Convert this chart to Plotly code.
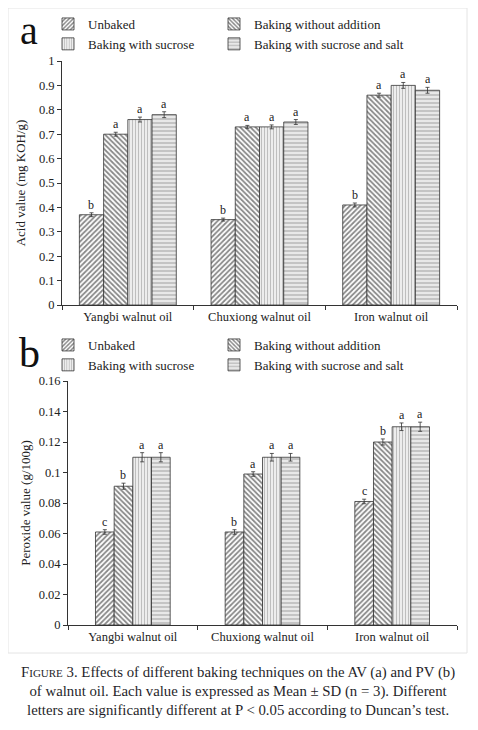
import plotly.graph_objects as go

# page body has an 8px margin, so the figure is drawn 8px lower/right
OFF = 8
W, H = 478 - OFF, 730 - OFF

categories = ["Yangbi walnut oil", "Chuxiong walnut oil", "Iron walnut oil"]
series_names = ["Unbaked", "Baking without addition", "Baking with sucrose", "Baking with sucrose and salt"]

# Panel a: acid value (mg KOH/g)
av_values = [
    [0.37, 0.35, 0.41],
    [0.70, 0.73, 0.86],
    [0.76, 0.73, 0.90],
    [0.78, 0.75, 0.88],
]
av_errors = [
    [0.008, 0.006, 0.008],
    [0.008, 0.006, 0.008],
    [0.010, 0.008, 0.012],
    [0.012, 0.010, 0.012],
]
av_letters = [
    ["b", "b", "b"],
    ["a", "a", "a"],
    ["a", "a", "a"],
    ["a", "a", "a"],
]
av_ticks = [0, 0.1, 0.2, 0.3, 0.4, 0.5, 0.6, 0.7, 0.8, 0.9, 1]

# Panel b: peroxide value (g/100g)
pv_values = [
    [0.061, 0.061, 0.081],
    [0.091, 0.099, 0.120],
    [0.110, 0.110, 0.130],
    [0.110, 0.110, 0.130],
]
pv_errors = [
    [0.0015, 0.0015, 0.0015],
    [0.0020, 0.0015, 0.0020],
    [0.0030, 0.0025, 0.0025],
    [0.0030, 0.0025, 0.0030],
]
pv_letters = [
    ["c", "b", "c"],
    ["b", "a", "b"],
    ["a", "a", "a"],
    ["a", "a", "a"],
]
pv_ticks = [0, 0.02, 0.04, 0.06, 0.08, 0.1, 0.12, 0.14, 0.16]

SERIF = "Liberation Serif, Times New Roman, serif"
patterns = [
    dict(shape="/", fgcolor="#111111", bgcolor="white", size=3.6, solidity=0.5),
    dict(shape="\\", fgcolor="#111111", bgcolor="white", size=3.6, solidity=0.5),
    dict(shape="|", fgcolor="#8a8a8a", bgcolor="#f2f2f2", size=3, solidity=0.4),
    dict(shape="-", fgcolor="#9a9a9a", bgcolor="#e8e8e8", size=4, solidity=0.45),
]

def px_x(x):
    return (x - OFF) / W

def px_y(y):
    return 1 - (y - OFF) / H

# panel geometry (reference page pixels)
A_X = (px_x(62), px_x(457))
A_Y = (px_y(305), px_y(61))
B_X = (px_x(68), px_x(457))
B_Y = (px_y(625), px_y(381))

A_WIDTH = 0.184
B_WIDTH = 0.144

# legend column of each series (two columns, two rows)
legend_col = [0, 1, 0, 1]

fig = go.Figure()
annotations = []

def add_panel(values, errors, letters, xa, ya, legends, bw, xdom):
    n = len(values)
    offsets = [(-n / 2 + i) * bw for i in range(n)]
    cat_px = (xdom[1] - xdom[0]) * W / len(categories)
    for i in range(n):
        fig.add_trace(go.Bar(
            x=categories, y=values[i], name=series_names[i],
            xaxis=xa, yaxis=ya, legend=legends[legend_col[i]],
            width=bw, offset=offsets[i],
            marker=dict(color=patterns[i]["bgcolor"], line=dict(color="#333333", width=0.8),
                        pattern=patterns[i]),
            error_y=dict(type="data", array=errors[i], color="#333333", thickness=0.8, width=2),
            hoverinfo="x+y",
        ))
        xshift = (offsets[i] + bw / 2) * cat_px
        for j, c in enumerate(categories):
            annotations.append(dict(
                x=c, y=values[i][j] + errors[i][j], xref=xa, yref=ya,
                text=letters[i][j], showarrow=False, xshift=xshift, yshift=-1,
                xanchor="center", yanchor="bottom",
                font=dict(family=SERIF, size=12, color="#222222"),
            ))

add_panel(av_values, av_errors, av_letters, "x", "y", ["legend", "legend2"], A_WIDTH, A_X)
add_panel(pv_values, pv_errors, pv_letters, "x2", "y2", ["legend3", "legend4"], B_WIDTH, B_X)

axis_common = dict(showline=True, linecolor="#333333", linewidth=1, ticks="outside",
                   ticklen=4, tickcolor="#333333", showgrid=False, zeroline=False,
                   automargin=False,
                   tickfont=dict(family=SERIF, size=12.5, color="#222222"))

# big panel letters
annotations.append(dict(x=px_x(18), y=px_y(55), xref="paper", yref="paper", text="a",
                        showarrow=False, xanchor="left", yanchor="bottom",
                        font=dict(family=SERIF, size=40, color="#111111")))
annotations.append(dict(x=px_x(17), y=px_y(378), xref="paper", yref="paper", text="b",
                        showarrow=False, xanchor="left", yanchor="bottom",
                        font=dict(family=SERIF, size=42, color="#111111")))

caption = ("F<span style='font-size:11px'>IGURE</span> 3. Effects of different baking techniques on the AV (a) and PV (b)<br>"
           "of walnut oil. Each value is expressed as Mean ± SD (n = 3). Different<br>"
           "letters are significantly different at P &lt; 0.05 according to Duncan’s test.")
annotations.append(dict(x=px_x(238), y=px_y(662), xref="paper", yref="paper", text=caption,
                        showarrow=False, xanchor="center", yanchor="top", align="center",
                        font=dict(family=SERIF, size=14.8, color="#1f1f2a")))

legend_common = dict(orientation="v", xanchor="left", yanchor="top", tracegroupgap=0,
                     font=dict(family=SERIF, size=13, color="#222222"),
                     bgcolor="rgba(0,0,0,0)", itemclick=False, itemdoubleclick=False)

COL_X = [48, 214]
LEG_A_TOP = 9
LEG_B_TOP = 330

fig.update_layout(
    width=W, height=H, margin=dict(l=0, r=0, t=0, b=0, autoexpand=False),
    paper_bgcolor="white", plot_bgcolor="white",
    barmode="overlay", showlegend=True,
    xaxis=dict(domain=list(A_X), anchor="y", type="category", tickson="boundaries",
               range=[-0.5, 2.5], **axis_common),
    yaxis=dict(domain=list(A_Y), anchor="x", range=[0, 1], tickvals=av_ticks,
               title=dict(text="Acid value (mg KOH/g)", standoff=10,
                          font=dict(family=SERIF, size=13, color="#222222")),
               **axis_common),
    xaxis2=dict(domain=list(B_X), anchor="y2", type="category", tickson="boundaries",
                range=[-0.5, 2.5], **axis_common),
    yaxis2=dict(domain=list(B_Y), anchor="x2", range=[0, 0.16], tickvals=pv_ticks,
                title=dict(text="Peroxide value (g/100g)", standoff=5,
                           font=dict(family=SERIF, size=13, color="#222222")),
                **axis_common),
    legend=dict(x=px_x(COL_X[0]), y=px_y(LEG_A_TOP), **legend_common),
    legend2=dict(x=px_x(COL_X[1]), y=px_y(LEG_A_TOP), **legend_common),
    legend3=dict(x=px_x(COL_X[0]), y=px_y(LEG_B_TOP), **legend_common),
    legend4=dict(x=px_x(COL_X[1]), y=px_y(LEG_B_TOP), **legend_common),
    annotations=annotations,
    shapes=[dict(type="rect", xref="paper", yref="paper", x0=px_x(8), x1=px_x(467),
                 y0=px_y(653), y1=px_y(8), line=dict(color="#e4e4e4", width=1))],
)

fig.write_html("out.html")
